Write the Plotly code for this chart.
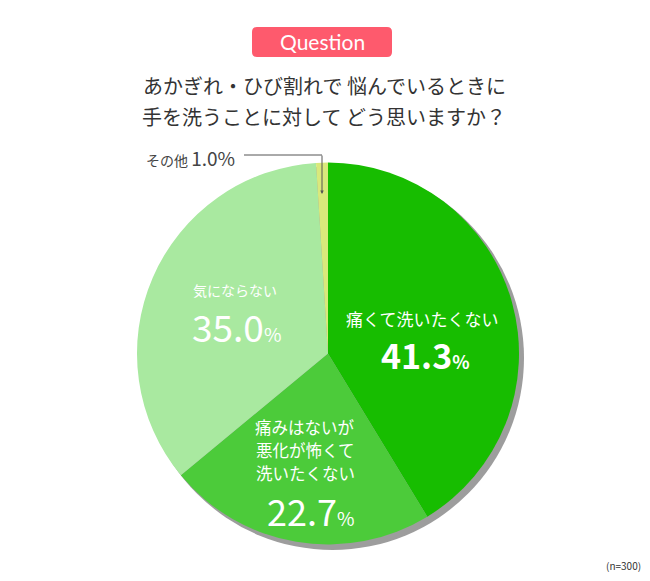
import plotly.graph_objects as go

# the page puts the plot 8px in from the top-left corner, so the figure is
# that much smaller than the window and every position is shifted back by 8px
OFF = 8
W, H = 650 - OFF, 581 - OFF

# data (n=300)
labels = ["痛くて洗いたくない", "痛みはないが悪化が怖くて洗いたくない", "気にならない", "その他"]
values = [41.3, 22.7, 35.0, 1.0]
colors = ["#17bd00", "#4ccb3a", "#a9e9a0", "#d9e97b"]

question = "Question"
title_lines = ["あかぎれ・ひび割れで 悩んでいるときに", "手を洗うことに対して どう思いますか？"]
mid_label_lines = ["痛みはないが", "悪化が怖くて", "洗いたくない"]
sample_note = "(n=300)"

FONT = "Noto Sans CJK JP"


def px(x):
    return (x - OFF) / W


def py(y):
    return 1 - (y - OFF) / H


fig = go.Figure()

fig.add_trace(go.Pie(
    labels=labels,
    values=values,
    marker=dict(colors=colors, line=dict(width=0)),
    sort=False,
    direction="clockwise",
    rotation=0,
    textinfo="none",
    hoverinfo="label+percent",
    showlegend=False,
    domain=dict(x=[px(137), px(519)], y=[py(545), py(162)]),
))

shapes = [
    # gray shadow behind the pie
    dict(type="circle", xref="paper", yref="paper", layer="below",
         x0=px(141), x1=px(524), y0=py(550), y1=py(166),
         fillcolor="#9d9d9d", line=dict(width=0)),
    # question badge
    dict(type="path", xref="paper", yref="paper",
         path=("M {a},{t} L {b},{t} Q {r},{t} {r},{t2} L {r},{b2} Q {r},{bo} {b},{bo} "
               "L {a},{bo} Q {l},{bo} {l},{b2} L {l},{t2} Q {l},{t} {a},{t} Z").format(
             l=px(252), a=px(257), b=px(387), r=px(392),
             t=py(27), t2=py(32), b2=py(52), bo=py(57)),
         fillcolor="#fe5a6d", line=dict(width=0)),
    # leader line for その他
    dict(type="line", xref="paper", yref="paper",
         x0=px(244), x1=px(322), y0=py(155), y1=py(155),
         line=dict(color="#555555", width=1)),
]

white = "#ffffff"
ann = [
    dict(x=px(322), y=py(194), ax=0, ay=-39, text="", showarrow=True,
         arrowhead=2, arrowsize=0.7, arrowwidth=1, arrowcolor="#555555"),
    dict(x=px(322), y=py(42), text=question,
         font=dict(family="Lato", size=21, color=white)),
    dict(x=px(324), y=py(85), text=title_lines[0],
         font=dict(family=FONT, size=20, color="#333333")),
    dict(x=px(324), y=py(117), text=title_lines[1],
         font=dict(family=FONT, size=20, color="#333333")),
    dict(x=px(191), y=py(158),
         text="その他 <span style='font-size:19px'>1.0%</span>",
         font=dict(family=FONT, size=14, color="#444444")),
    dict(x=px(422), y=py(318), text=labels[0],
         font=dict(family=FONT, size=17, color=white)),
    dict(x=px(425), y=py(354),
         text="<b>41.3</b><span style='font-size:18px'><b>%</b></span>",
         font=dict(family=FONT, size=34, color=white)),
    dict(x=px(235), y=py(290), text=labels[2],
         font=dict(family=FONT, size=14, color=white)),
    dict(x=px(236), y=py(326),
         text="35.0<span style='font-size:19px'>%</span>",
         font=dict(family=FONT, size=37, color=white)),
    dict(x=px(310), y=py(510),
         text="22.7<span style='font-size:19px'>%</span>",
         font=dict(family=FONT, size=36, color=white)),
    dict(x=px(623), y=py(565), text=sample_note,
         font=dict(family=FONT, size=10, color="#333333")),
]
for i, line in enumerate(mid_label_lines):
    ann.append(dict(x=px(305), y=py(427 + 23 * i), text=line,
                    font=dict(family=FONT, size=16.5, color=white)))

for a in ann:
    a.setdefault("xref", "paper")
    a.setdefault("yref", "paper")
    a.setdefault("showarrow", False)
    a.setdefault("xanchor", "center")
    a.setdefault("yanchor", "middle")
    a.setdefault("borderpad", 0)

fig.update_layout(
    width=W, height=H,
    margin=dict(l=0, r=0, t=0, b=0),
    paper_bgcolor="white",
    plot_bgcolor="white",
    shapes=shapes,
    annotations=ann,
)

fig.write_html("out.html")
